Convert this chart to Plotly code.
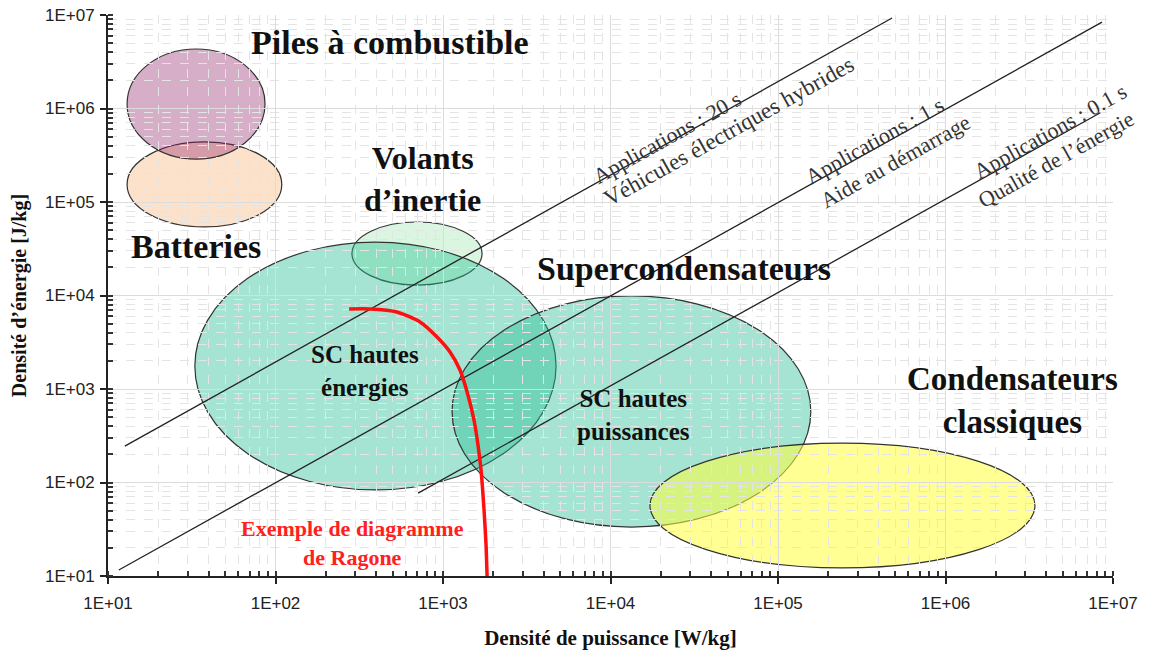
import plotly.graph_objects as go

# ---- data ----
tick_vals = [1e1, 1e2, 1e3, 1e4, 1e5, 1e6, 1e7]
tick_text = ["1E+01", "1E+02", "1E+03", "1E+04", "1E+05", "1E+06", "1E+07"]

# Technology regions: power density range [W/kg], energy density range [J/kg]
region_names = ["Batteries", "Piles à combustible", "Volants d'inertie",
                "SC hautes énergies", "SC hautes puissances", "Condensateurs classiques"]
region_p_min = [13, 13, 286, 33, 1133, 1.72e4]
region_p_max = [109, 86.6, 1710, 4730, 1.57e5, 3.42e6]
region_e_min = [5.41e4, 2.88e5, 1.29e4, 83.2, 33.4, 12.2]
region_e_max = [4.39e5, 4.33e6, 6.11e4, 3.73e4, 9890, 264]
region_fill = ["rgba(250,190,140,0.45)", "rgba(140,30,100,0.36)", "rgba(150,230,170,0.35)",
               "rgba(40,190,150,0.42)", "rgba(40,190,150,0.42)", "rgba(255,255,60,0.55)"]

# Constant-time lines (20 s, 1 s, 0.1 s)
line20_p = [12.6, 4.8e5]
line20_e = [245, 9.3e6]
line1_p = [11.6, 8.6e6]
line1_e = [11.6, 8.4e6]
line01_p = [710, 8.4e6]
line01_e = [77, 9.0e5]

# Example Ragone curve
ragone_p = [275, 366, 531, 729, 921, 1101, 1263, 1409, 1531, 1618, 1687, 1758, 1807, 1833]
ragone_e = [7180, 7180, 6670, 5210, 3600, 2490, 1596, 863, 466, 252, 136, 50.8, 21.5, 10]

fig = go.Figure()

for px_, ey_ in [(line20_p, line20_e), (line1_p, line1_e), (line01_p, line01_e)]:
    fig.add_trace(go.Scatter(x=px_, y=ey_, mode="lines",
                             line=dict(color="#222222", width=1.3),
                             showlegend=False, hoverinfo="skip"))

fig.add_trace(go.Scatter(x=ragone_p, y=ragone_e, mode="lines",
                         line=dict(color="#ff1010", width=3.5, shape="spline", smoothing=0.6),
                         showlegend=False, hoverinfo="skip"))

for i in range(len(region_names)):
    fig.add_shape(type="circle", xref="x", yref="y",
                  x0=region_p_min[i], x1=region_p_max[i],
                  y0=region_e_min[i], y1=region_e_max[i],
                  fillcolor=region_fill[i], line=dict(color="#333333", width=1.2),
                  layer="below")

serif = "Liberation Serif, Times New Roman, serif"

def label(text, xl, yl, size, color="#111111", bold=True, angle=0):
    fig.add_annotation(x=xl, y=yl, xref="x", yref="y", text=("<b>%s</b>" % text) if bold else text,
                       showarrow=False, textangle=angle, xanchor="center", yanchor="middle",
                       font=dict(family=serif, size=size, color=color))

label("Piles à combustible", 2.684, 6.711, 34)
label("Batteries", 1.525, 4.529, 34)
label("Volants<br>d’inertie", 2.875, 5.246, 32)
label("Supercondensateurs", 4.439, 4.294, 34)
label("SC hautes<br>énergies", 2.534, 3.193, 25)
label("SC hautes<br>puissances", 4.140, 2.722, 25)
label("Condensateurs<br>classiques", 6.397, 2.872, 33)
label("Exemple de diagramme<br>de Ragone", 2.457, 1.353, 22, color="#ff2020")

ang = -29.2
label("Applications : 20 s", 4.337, 5.695, 22, color="#333333", bold=False, angle=ang)
label("Véhicules électriques hybrides", 4.707, 5.749, 23, color="#333333", bold=False, angle=ang)
label("Applications : 1 s", 5.579, 5.663, 22, color="#333333", bold=False, angle=ang)
label("Aide au démarrage", 5.699, 5.428, 22, color="#333333", bold=False, angle=ang)
label("Applications : 0.1 s", 6.624, 5.749, 22, color="#333333", bold=False, angle=ang)
label("Qualité de l’énergie", 6.66, 5.45, 22, color="#333333", bold=False, angle=ang)

axis_common = dict(
    type="log", tickmode="array", tickvals=tick_vals, ticktext=tick_text,
    showline=True, linecolor="#222222", linewidth=2,
    ticks="outside", ticklen=6, tickcolor="#222222", tickwidth=1.5,
    showgrid=True, gridcolor="#dcdcdc", gridwidth=1,
    zeroline=False, automargin=False, ticklabeloverflow="allow",
    tickfont=dict(family="Liberation Sans, Arial, sans-serif", size=17, color="#222222"),
    minor=dict(dtick="D1", ticks="inside", ticklen=5, tickcolor="#333333",
               showgrid=True, gridcolor="#e4e4e4", griddash="dash", gridwidth=1),
)

fig.update_xaxes(range=[1, 7], ticklabelstandoff=5,
                 title=dict(text="<b>Densité de puissance [W/kg]</b>",
                            font=dict(family=serif, size=21, color="#111111"), standoff=18),
                 **axis_common)
fig.update_yaxes(range=[1, 7], ticklabelstandoff=2,
                 title=dict(text="<b>Densité d’énergie [J/kg]</b>",
                            font=dict(family=serif, size=20, color="#111111"), standoff=13),
                 **axis_common)

fig.update_layout(width=1152, height=652, margin=dict(l=108, r=39, t=15, b=76),
                  paper_bgcolor="white", plot_bgcolor="white", showlegend=False)

fig.write_html("out.html", config={"displayModeBar": False},
               post_script="document.body.style.margin='0px';document.body.style.overflow='hidden';")
